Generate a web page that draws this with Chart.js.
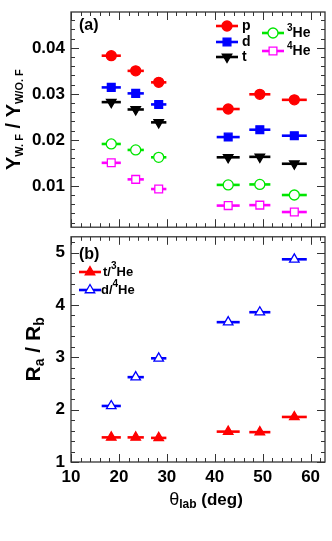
<!DOCTYPE html>
<html><head><meta charset="utf-8">
<script src="https://cdn.jsdelivr.net/npm/chart.js@4/dist/chart.umd.min.js"></script>
<style>
html,body{margin:0;padding:0;background:#fff;width:332px;height:541px;overflow:hidden}
#ca{position:absolute;left:0;top:0}
#cb{position:absolute;left:0;top:230px}
</style></head><body>
<canvas id="ca" width="332" height="234"></canvas>
<canvas id="cb" width="332" height="311"></canvas>
<script>
// ---- data ----
const thetaLab = [18.4, 23.5, 28.3, 42.8, 49.4, 56.6];
const thetaErr = [2.0, 1.7, 1.6, 2.4, 2.2, 2.6];
const yieldP   = [0.0383, 0.0350, 0.0325, 0.0267, 0.0299, 0.0287];
const yieldD   = [0.0314, 0.0301, 0.0277, 0.0206, 0.0222, 0.0209];
const yieldT   = [0.0282, 0.0266, 0.0238, 0.0162, 0.0163, 0.0148];
const yieldHe3 = [0.0191, 0.0178, 0.0162, 0.0102, 0.0103, 0.0080];
const yieldHe4 = [0.0150, 0.0114, 0.0093, 0.0057, 0.0058, 0.0043];
const ratioTHe3 = [1.47, 1.47, 1.46, 1.58, 1.57, 1.86];
const ratioDHe4 = [2.07, 2.62, 2.98, 3.67, 3.86, 4.87];
const xTicks = [10, 20, 30, 40, 50, 60];
const yTicksA = [0.01, 0.02, 0.03, 0.04];
const yTicksB = [1, 2, 3, 4, 5];

const FONT = '"Liberation Sans", Arial, Helvetica, sans-serif';
const pts = (ys) => thetaLab.map((x, i) => ({x: x, y: ys[i]}));

function ds(label, ys, color, style, filled, rot, r) {
  return {label, data: pts(ys), pointStyle: style, rotation: rot || 0,
    pointRadius: r, pointHoverRadius: r, borderWidth: 1.3,
    borderColor: color, backgroundColor: filled ? color : '#ffffff',
    errColor: color, showLine: false};
}

const decor = {
  id: 'decor',
  beforeDatasetsDraw(chart) {
    const ctx = chart.ctx, xs = chart.scales.x, ys = chart.scales.y;
    ctx.save();
    ctx.lineWidth = 2.6;
    chart.data.datasets.forEach(d => {
      ctx.strokeStyle = d.errColor;
      d.data.forEach((p, i) => {
        const y = ys.getPixelForValue(p.y);
        ctx.beginPath();
        ctx.moveTo(xs.getPixelForValue(p.x - thetaErr[i]), y);
        ctx.lineTo(xs.getPixelForValue(p.x + thetaErr[i]), y);
        ctx.stroke();
      });
    });
    ctx.restore();
  },
  afterDraw(chart) {
    const ctx = chart.ctx, a = chart.chartArea, xs = chart.scales.x, ys = chart.scales.y;
    const o = chart.options.plugins.decor;
    ctx.save();
    ctx.strokeStyle = '#333';
    ctx.lineWidth = 1.3;
    ctx.strokeRect(a.left, a.top, a.right - a.left, a.bottom - a.top);
    ctx.lineWidth = 1;
    ctx.beginPath();
    for (let v = 10; v <= xs.max + 1e-9; v += 2) {
      const px = Math.round(xs.getPixelForValue(v)) + 0.5;
      const L = (Math.abs(v % 10) < 1e-6) ? 8 : 4;
      ctx.moveTo(px, a.bottom); ctx.lineTo(px, a.bottom - L);
      ctx.moveTo(px, a.top); ctx.lineTo(px, a.top + L);
    }
    for (let k = 0; ; k++) {
      const v = o.yStart + k * o.yMinor;
      if (v > ys.max + 1e-12) break;
      if (v < ys.min - 1e-12) continue;
      const py = Math.round(ys.getPixelForValue(v)) + 0.5;
      const L = (k % 5 === 0) ? 8 : 4;
      ctx.moveTo(a.left, py); ctx.lineTo(a.left + L, py);
      ctx.moveTo(a.right, py); ctx.lineTo(a.right - L, py);
    }
    ctx.stroke();
    ctx.fillStyle = '#000';
    ctx.font = 'bold 16px ' + FONT;
    ctx.textBaseline = 'middle';
    ctx.textAlign = 'left';
    ctx.fillText(o.tag, a.left + 8, a.top + o.tagDy);
    o.legend.forEach(L => {
      const d = chart.data.datasets[L.i];
      const ly = L.y - o.off;
      ctx.strokeStyle = d.errColor; ctx.lineWidth = 2.6;
      ctx.beginPath(); ctx.moveTo(L.x - 11, ly); ctx.lineTo(L.x + 11, ly); ctx.stroke();
      ctx.fillStyle = d.backgroundColor; ctx.strokeStyle = d.borderColor; ctx.lineWidth = 1.3;
      Chart.helpers.drawPoint(ctx, {pointStyle: d.pointStyle, rotation: d.rotation,
        radius: d.pointRadius, borderWidth: 1.3}, L.x, ly);
      ctx.fillStyle = '#000';
      let tx = L.tx;
      L.parts.forEach(p => {
        ctx.font = 'bold ' + p.s + 'px ' + FONT;
        ctx.fillText(p.t, tx, ly + (p.dy || 0));
        tx += ctx.measureText(p.t).width;
      });
    });
    ctx.save();
    const cy = (a.top + a.bottom) / 2;
    ctx.translate(o.titleX, cy);
    ctx.rotate(-Math.PI / 2);
    let w = 0;
    o.title.forEach(p => { ctx.font = 'bold ' + p.s + 'px ' + FONT; w += ctx.measureText(p.t).width; });
    let tx = -w / 2;
    o.title.forEach(p => {
      ctx.font = 'bold ' + p.s + 'px ' + FONT;
      ctx.fillText(p.t, tx, p.dy || 0);
      tx += ctx.measureText(p.t).width;
    });
    ctx.restore();
    if (o.xTitle) {
      const cx = (a.left + a.right) / 2 + 8, yy = a.bottom + 38;
      const parts = [{t: 'θ', s: 18, b: ''}, {t: 'lab', s: 12, dy: 5, b: 'bold '}, {t: ' (deg)', s: 17, b: 'bold '}];
      let w2 = 0;
      parts.forEach(p => { ctx.font = p.b + p.s + 'px ' + FONT; w2 += ctx.measureText(p.t).width; });
      let x2 = cx - w2 / 2;
      parts.forEach(p => {
        ctx.font = p.b + p.s + 'px ' + FONT;
        ctx.fillText(p.t, x2, yy + (p.dy || 0));
        x2 += ctx.measureText(p.t).width;
      });
    }
    ctx.restore();
  }
};

function zeroPad(s) { s.paddingTop = 0; s.paddingBottom = 0; s.paddingLeft = 0; s.paddingRight = 0; }

function opts(yMin, yMax, yTicks, xShow, extra, padTop, padBottom) {
  return {
    responsive: false, maintainAspectRatio: false, animation: false,
    layout: {padding: {left: 0, right: 7, top: padTop, bottom: padBottom}},
    plugins: {legend: {display: false}, tooltip: {enabled: false}, decor: extra},
    scales: {
      x: {type: 'linear', min: 10, max: 63, display: xShow,
        grid: {display: false, drawTicks: false}, border: {display: false},
        afterBuildTicks: s => { s.ticks = xTicks.map(v => ({value: v})); },
        afterFit: s => { zeroPad(s); s.height = s.options.display ? 79 : 0; },
        ticks: {padding: 5, color: '#000', font: {family: FONT, size: 17, weight: 'bold'}, maxRotation: 0}},
      y: {type: 'linear', min: yMin, max: yMax,
        grid: {display: false, drawTicks: false}, border: {display: false},
        afterBuildTicks: s => { s.ticks = yTicks.map(v => ({value: v})); },
        afterFit: s => { zeroPad(s); s.width = 71; },
        ticks: {padding: 6, color: '#000', font: {family: FONT, size: 17, weight: 'bold'},
          callback: v => String(v)}}
    }
  };
}

new Chart(document.getElementById('ca'), {
  type: 'scatter',
  data: {datasets: [
    ds('p', yieldP, '#ff0000', 'circle', true, 0, 5),
    ds('d', yieldD, '#0000ff', 'rect', true, 0, 5.5),
    ds('t', yieldT, '#000000', 'triangle', true, 180, 5.5),
    ds('3He', yieldHe3, '#00e600', 'circle', false, 0, 5),
    ds('4He', yieldHe4, '#ff00ff', 'rect', false, 0, 5.5)
  ]},
  options: opts(0.001, 0.0478, yTicksA, false, {
    tag: '(a)', tagDy: 14, yStart: 0.0, yMinor: 0.002, titleX: 14, off: 0,
    title: [{t: 'Y', s: 20}, {t: 'W. F', s: 11, dy: 6}, {t: ' / Y', s: 20}, {t: 'W/O. F', s: 11, dy: 6}],
    legend: [
      {i: 0, x: 227, y: 26, tx: 242, parts: [{t: 'p', s: 14}]},
      {i: 1, x: 227, y: 42, tx: 242, parts: [{t: 'd', s: 14}]},
      {i: 2, x: 227, y: 57, tx: 242, parts: [{t: 't', s: 14}]},
      {i: 3, x: 273, y: 33, tx: 287, parts: [{t: '3', s: 10, dy: -5}, {t: 'He', s: 14}]},
      {i: 4, x: 273, y: 51, tx: 287, parts: [{t: '4', s: 10, dy: -5}, {t: 'He', s: 14}]}
    ]
  }, 12, 2),
  plugins: [decor]
});

new Chart(document.getElementById('cb'), {
  type: 'scatter',
  data: {datasets: [
    ds('t/3He', ratioTHe3, '#ff0000', 'triangle', true, 0, 5.5),
    ds('d/4He', ratioDHe4, '#0000ff', 'triangle', false, 0, 5.5)
  ]},
  options: opts(1, 5.3, yTicksB, true, {
    tag: '(b)', tagDy: 18, yStart: 1, yMinor: 0.2, titleX: 34, xTitle: true, off: 230,
    title: [{t: 'R', s: 21}, {t: 'a', s: 14, dy: 6}, {t: ' / R', s: 21}, {t: 'b', s: 14, dy: 6}],
    legend: [
      {i: 0, x: 90, y: 272, tx: 103, parts: [{t: 't/', s: 13}, {t: '3', s: 10, dy: -6}, {t: 'He', s: 13}]},
      {i: 1, x: 90, y: 290, tx: 101, parts: [{t: 'd/', s: 13}, {t: '4', s: 10, dy: -6}, {t: 'He', s: 13}]}
    ]
  }, 2, 0),
  plugins: [decor]
});
</script>
</body></html>
